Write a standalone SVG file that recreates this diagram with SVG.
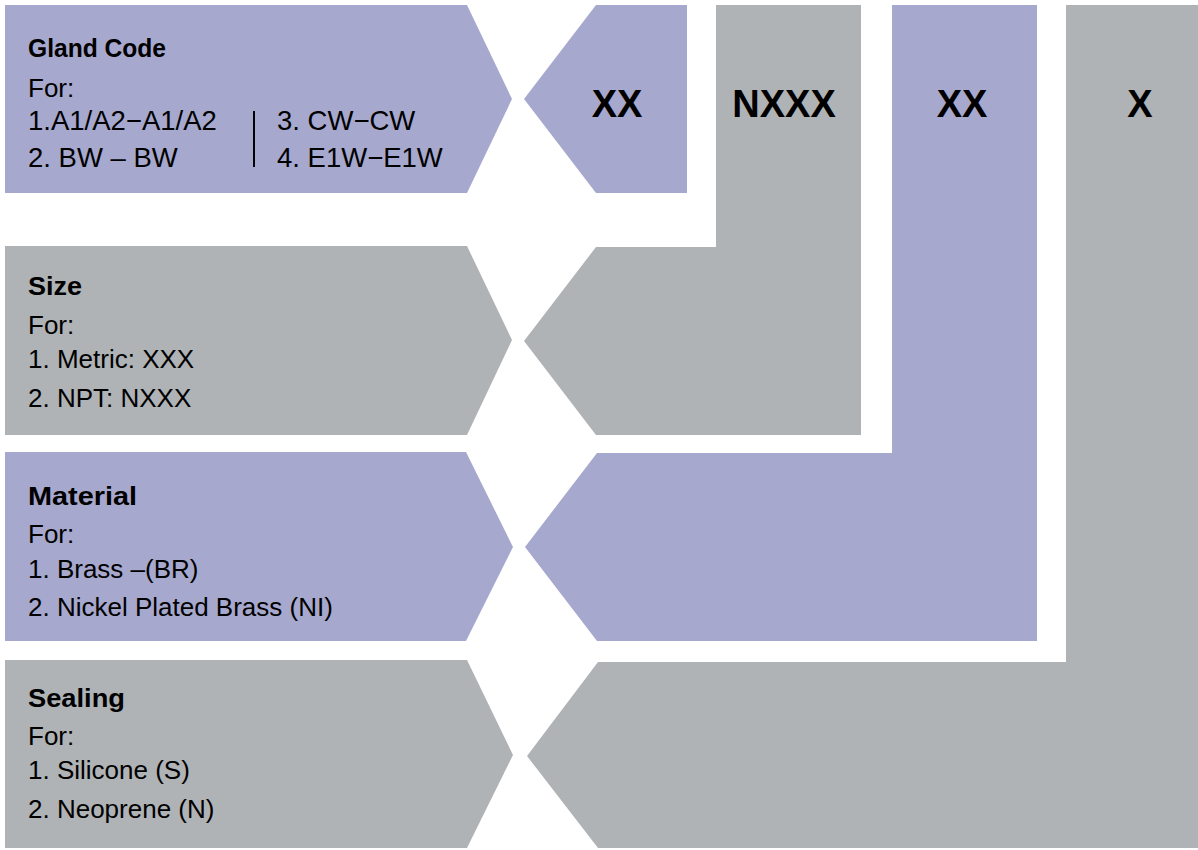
<svg xmlns="http://www.w3.org/2000/svg" width="1198" height="850" viewBox="0 0 1198 850">
<style>
.lav{fill:#A7A8CE}
.gry{fill:#AFB3B6}
.t{font-family:"Liberation Sans",Arial,sans-serif;font-size:26px;fill:#000}
.g{font-size:27.5px}
.b{font-family:"Liberation Sans",Arial,sans-serif;font-size:26px;font-weight:bold;fill:#000}
.v{font-family:"Liberation Sans",Arial,sans-serif;font-size:38px;font-weight:bold;fill:#000;text-anchor:middle}
</style>
<rect width="1198" height="850" fill="#FFFFFF"/>
<g id="gland-code">
<path class="lav" d="M5,5 H467 L512,99 L467,193 H5 Z"/>
<text class="b" x="28" y="57" textLength="138" lengthAdjust="spacingAndGlyphs">Gland Code</text>
<text class="t" x="28" y="97">For:</text>
<text class="t g" x="28" y="130">1.A1/A2−A1/A2</text>
<text class="t g" x="28" y="167">2. BW – BW</text>
<line x1="254" y1="111" x2="254" y2="167" stroke="#000" stroke-width="2"/>
<text class="t g" x="277" y="130">3. CW−CW</text>
<text class="t g" x="277" y="167">4. E1W−E1W</text>
</g>
<g id="size">
<path class="gry" d="M5,246 H467 L512,340 L467,435 H5 Z"/>
<text class="b" x="28" y="295" textLength="54" lengthAdjust="spacingAndGlyphs">Size</text>
<text class="t" x="28" y="334">For:</text>
<text class="t" x="28" y="368">1. Metric: XXX</text>
<text class="t" x="28" y="407">2. NPT: NXXX</text>
</g>
<g id="material">
<path class="lav" d="M5,452 H466 L513,547 L466,641 H5 Z"/>
<text class="b" x="28" y="505" textLength="109" lengthAdjust="spacingAndGlyphs">Material</text>
<text class="t" x="28" y="543">For:</text>
<text class="t" x="28" y="578">1. Brass –(BR)</text>
<text class="t" x="28" y="616">2. Nickel Plated Brass (NI)</text>
</g>
<g id="sealing">
<path class="gry" d="M5,660 H467 L513,755 L467,848 H5 Z"/>
<text class="b" x="28" y="707" textLength="97" lengthAdjust="spacingAndGlyphs">Sealing</text>
<text class="t" x="28" y="745">For:</text>
<text class="t" x="28" y="779">1. Silicone (S)</text>
<text class="t" x="28" y="818">2. Neoprene (N)</text>
</g>
<g id="code-gland">
<path class="lav" d="M596,5 H687 V193 H596 L524,99 Z"/>
<text class="v" x="617" y="117">XX</text>
</g>
<g id="code-size">
<path class="gry" d="M716,5 H861 V435 H596 L524,341 L596,247 H716 Z"/>
<text class="v" x="784" y="117">NXXX</text>
</g>
<g id="code-material">
<path class="lav" d="M892,5 H1037 V641 H597 L525,547 L597,453 H892 Z"/>
<text class="v" x="962" y="117">XX</text>
</g>
<g id="code-sealing">
<path class="gry" d="M1066,5 H1198 V848 H598 L527,756 L598,662 H1066 Z"/>
<text class="v" x="1140" y="117">X</text>
</g>
<g id="connectors"></g>
</svg>
